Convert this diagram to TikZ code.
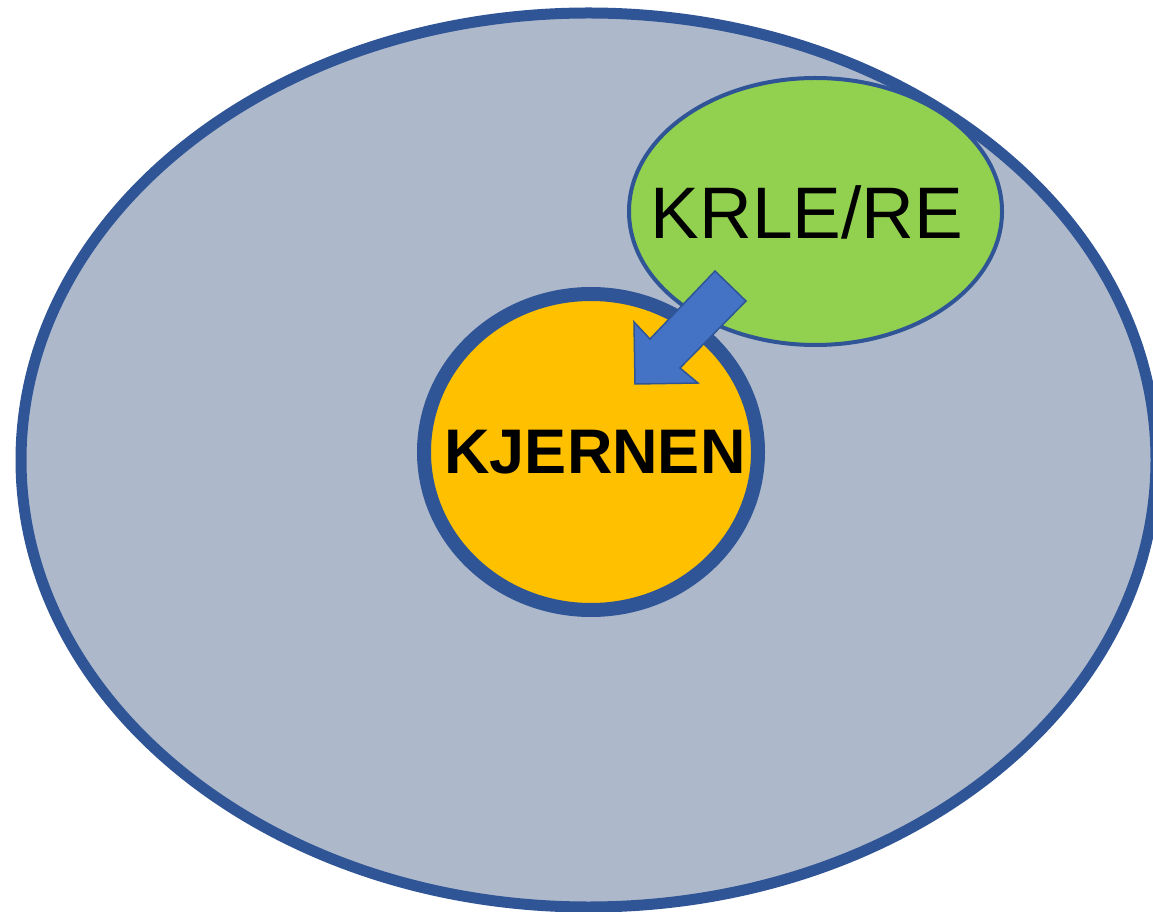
\documentclass[tikz,border=0pt]{standalone}
\usepackage{fontspec}
\setmainfont{Liberation Sans}
\usepackage{xcolor}
\usepackage{tikz}
\usetikzlibrary{shapes.geometric}

\definecolor{rimblue}{HTML}{2F5597}
\definecolor{fieldgrey}{HTML}{ADB9CA}
\definecolor{krlegreen}{HTML}{92D050}
\definecolor{coreorange}{HTML}{FFC000}
\definecolor{arrowblue}{HTML}{4472C4}

\begin{document}
\begin{tikzpicture}[
  x=1pt, y=1pt,
  field/.style   = {ellipse,
                    draw=rimblue,
                    fill=fieldgrey,
                    line width=11pt,
                    inner sep=0pt},
  subject/.style = {ellipse,
                    draw=rimblue,
                    fill=krlegreen,
                    line width=4pt,
                    inner sep=0pt},
  core/.style    = {ellipse,
                    draw=rimblue,
                    fill=coreorange,
                    line width=14pt,
                    inner sep=0pt},
  pointer/.style = {draw=rimblue,
                    fill=arrowblue,
                    line width=1.5pt,
                    line join=miter}
]

\useasboundingbox (0,0) rectangle (1153,911);

\node[field, minimum width=1135pt, minimum height=894pt] (field) at (588.5,451) {};

\node[subject, minimum width=373pt, minimum height=267pt] (krle) at (815.5,699.5) {};
\node (krletext) at (807,698.5) {\fontsize{73}{80}\selectfont KRLE/RE};

\node[core, minimum width=334pt, minimum height=316pt] (kjernen) at (591,459) {};
\node (kjernentext) at (595,458.5) {\fontsize{63}{70}\selectfont\bfseries KJERNEN};

% block arrow from KRLE/RE into the core
\draw[pointer] (715,640) -- (746,610) -- (680,543) -- (698,528)
  -- (635,527) -- (634,589) -- (650,572) -- cycle;

\end{tikzpicture}
\end{document}
